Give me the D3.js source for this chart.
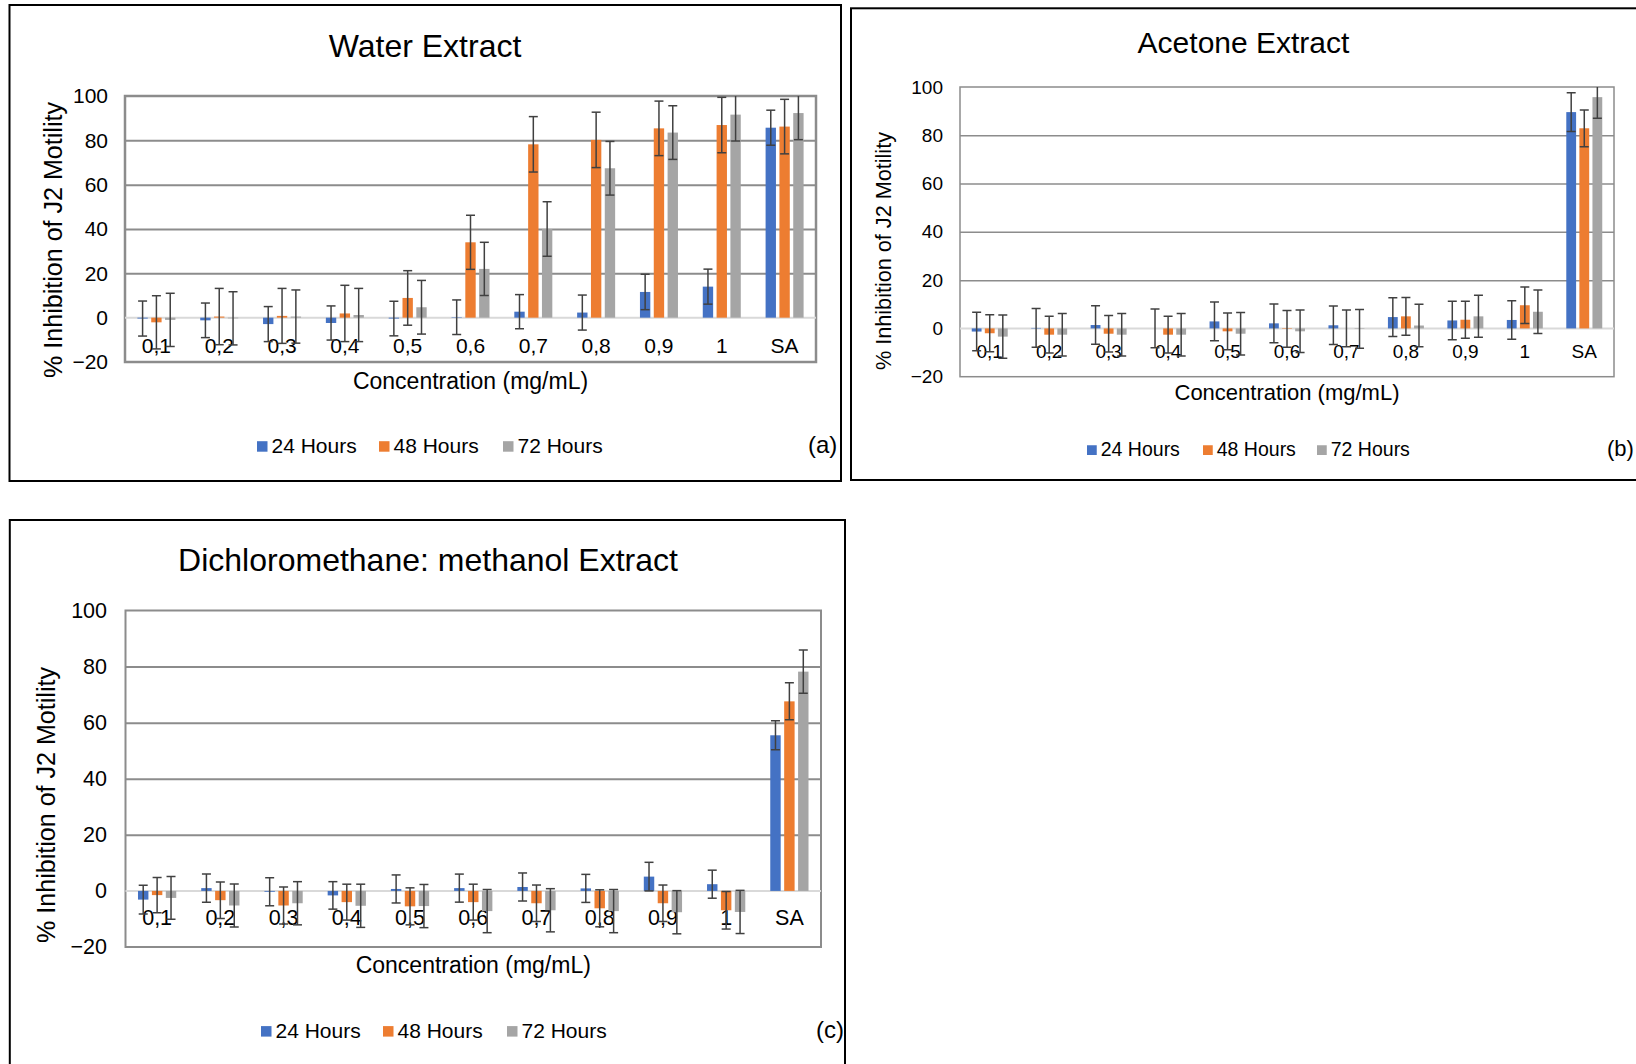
<!DOCTYPE html>
<html>
<head>
<meta charset="utf-8">
<title>Inhibition of J2 motility</title>
<script src="https://d3js.org/d3.v7.min.js"></script>
<style>
  body { margin: 0; background: #fff; }
  svg text { font-family: "Liberation Sans", Arial, sans-serif; fill: #000; }
</style>
</head>
<body>
<div id="chart"></div>
<script>
// shared categories / series
var categories = ["0,1", "0,2", "0,3", "0,4", "0,5", "0,6", "0,7", "0,8", "0,9", "1", "SA"];
var seriesNames = ["24 Hours", "48 Hours", "72 Hours"];
var seriesColors = ["#4472C4", "#ED7D31", "#A5A5A5"];
var yTicks = [-20, 0, 20, 40, 60, 80, 100];

// (a) Water extract
var water24 = [-0.4, -1.2, -2.9, -2.4, -0.4, 0.2, 2.7, 2.3, 11.6, 14, 85.7];
var water48 = [-2.1, 0.5, 0.8, 1.9, 8.9, 34, 78.2, 80.2, 85.4, 86.9, 86.2];
var water72 = [-1, -0.3, 0.5, 1.2, 4.7, 22, 40, 67.4, 83.5, 91.6, 92.3];
var waterErr24 = [7.9, 7.8, 7.9, 7.7, 7.8, 7.8, 7.7, 7.9, 8, 7.9, 7.9];
var waterErr48 = [12, 12.7, 12.4, 12.7, 12.3, 12.2, 12.5, 12.5, 12.3, 12.5, 12.3];
var waterErr72 = [12, 12, 12, 12, 12.1, 12, 12.3, 12.1, 12.1, 11.9, 12];

// (b) Acetone extract
var acetone24 = [-1.3, 0.2, 1.4, 0, 2.9, 2.1, 1.3, 4.7, 3.3, 3.5, 89.6];
var acetone48 = [-2, -2.6, -2.2, -2.6, -1.2, -0.2, 0, 5, 3.6, 9.6, 82.9];
var acetone72 = [-3.4, -2.6, -2.6, -2.6, -2.2, -1.2, -0.2, 1.2, 5, 6.9, 95.8];
var acetoneErr24 = [8, 8, 8, 8, 8, 8, 8, 8, 8, 8, 8];
var acetoneErr48 = [7.7, 7.6, 7.6, 7.6, 7.6, 7.6, 7.6, 7.8, 7.7, 7.6, 7.6];
var acetoneErr72 = [9, 8.8, 8.8, 8.8, 8.8, 8.8, 8, 8.8, 8.7, 9, 8.7];

// (c) Dichloromethane: methanol extract
var dcm24 = [-3.1, 1, -0.3, -1.6, 0.7, 1, 1.4, 0.9, 5.1, 2.4, 55.5];
var dcm48 = [-1.5, -3.3, -5.2, -4, -5.5, -4, -4.4, -6.2, -4.4, -6.9, 67.6];
var dcm72 = [-2.5, -5.2, -4.4, -5.3, -5.4, -7.2, -6.9, -7.2, -7.6, -7.5, 78.2];
var dcmErr24 = [5.1, 5, 5, 4.9, 5, 5, 5, 5, 5.1, 5, 5.2];
var dcmErr48 = [6.3, 6.5, 6.6, 6.4, 6.6, 6.4, 6.5, 6.6, 6.5, 6.7, 6.6];
var dcmErr72 = [7.6, 7.7, 7.7, 7.7, 7.7, 7.7, 7.7, 7.7, 7.7, 7.7, 7.7];

var svg = d3.select("#chart").append("svg")
  .attr("width", 1636)
  .attr("height", 1064);

svg.append("rect").attr("width", 1636).attr("height", 1064).attr("fill", "#fff");

var panels = [
  {
    id: "a", title: "Water Extract", tag: "(a)",
    values: [water24, water48, water72], errors: [waterErr24, waterErr48, waterErr72],
    frame: [9.5, 5, 841, 481],
    left: 125, right: 816, top: 96, bottom: 362,
    titleX: 425, titleY: 56.7, titleSize: 32,
    tickRight: 108, tickSize: 21, xTickY: 353,
    xTitleY: 389, xTitleSize: 23,
    yLabelX: 62, yLabelY: 240, yLabelSize: 25, yLabelLen: 276,
    legendY: 452.7, legendSize: 21, legendX: [257, 379, 503], tagX: 808, tagSize: 24,
    gridW: 2, borderW: 2.5
  },
  {
    id: "b", title: "Acetone Extract", tag: "(b)",
    values: [acetone24, acetone48, acetone72], errors: [acetoneErr24, acetoneErr48, acetoneErr72],
    frame: [851, 8.3, 1660, 480],
    left: 960, right: 1614, top: 87, bottom: 376.7,
    titleX: 1243.5, titleY: 52.7, titleSize: 30,
    tickRight: 943, tickSize: 19, xTickY: 358,
    xTitleY: 400, xTitleSize: 22,
    yLabelX: 891, yLabelY: 251, yLabelSize: 22, yLabelLen: 238,
    legendY: 456, legendSize: 19.5, legendX: [1087, 1203, 1317], tagX: 1607, tagSize: 22,
    gridW: 1.5, borderW: 1.5
  },
  {
    id: "c", title: "Dichloromethane: methanol Extract", tag: "(c)",
    values: [dcm24, dcm48, dcm72], errors: [dcmErr24, dcmErr48, dcmErr72],
    frame: [9.8, 520, 845, 1090],
    left: 125.5, right: 821, top: 610.5, bottom: 947,
    titleX: 428, titleY: 571, titleSize: 32,
    tickRight: 107, tickSize: 21.5, xTickY: 925,
    xTitleY: 973, xTitleSize: 23,
    yLabelX: 55, yLabelY: 805, yLabelSize: 25, yLabelLen: 276,
    legendY: 1037.6, legendSize: 21, legendX: [261, 383, 507], tagX: 816, tagSize: 24,
    gridW: 2, borderW: 2
  }
];

panels.forEach(drawPanel);

function drawPanel(p) {
  var g = svg.append("g").attr("class", "panel-" + p.id);

  // outer frame
  g.append("rect")
    .attr("x", p.frame[0]).attr("y", p.frame[1])
    .attr("width", p.frame[2] - p.frame[0]).attr("height", p.frame[3] - p.frame[1])
    .attr("fill", "none").attr("stroke", "#000").attr("stroke-width", 2);

  var y = d3.scaleLinear().domain([-20, 100]).range([p.bottom, p.top]);
  var x0 = d3.scaleBand().domain(categories).range([p.left, p.right]);
  var bw = x0.bandwidth();
  var x1 = d3.scaleBand().domain([0, 1, 2])
    .range([bw * 0.17, bw * 0.83])
    .paddingInner(0.25).paddingOuter(0.125);

  // gridlines
  g.append("g")
    .attr("transform", "translate(" + p.left + ",0)")
    .call(d3.axisLeft(y).tickValues([20, 40, 60, 80]).tickSize(-(p.right - p.left)).tickFormat(""))
    .call(function (s) {
      s.select(".domain").remove();
      s.selectAll("line").attr("stroke", "#8c8c8c").attr("stroke-width", p.gridW);
    });

  // plot border
  g.append("rect")
    .attr("x", p.left).attr("y", p.top)
    .attr("width", p.right - p.left).attr("height", p.bottom - p.top)
    .attr("fill", "none").attr("stroke", "#8c8c8c").attr("stroke-width", p.borderW);

  // y tick labels
  g.append("g")
    .attr("transform", "translate(" + p.tickRight + ",0)")
    .call(d3.axisLeft(y).tickValues(yTicks).tickSize(0).tickPadding(0))
    .call(function (s) {
      s.select(".domain").remove();
      s.selectAll("text").attr("font-size", p.tickSize).attr("font-family", null).attr("fill", "#000");
    });

  // x tick labels
  g.append("g")
    .attr("transform", "translate(0," + p.xTickY + ")")
    .call(d3.axisBottom(x0).tickSize(0).tickPadding(0))
    .call(function (s) {
      s.select(".domain").remove();
      s.selectAll("text").attr("dy", "0").attr("font-size", p.tickSize).attr("font-family", null).attr("fill", "#000");
    });

  // zero line
  g.append("line")
    .attr("x1", p.left).attr("x2", p.right)
    .attr("y1", y(0)).attr("y2", y(0))
    .attr("stroke", "#d9d9d9").attr("stroke-width", 2);

  var clipId = "clip-" + p.id;
  g.append("clipPath").attr("id", clipId)
    .append("rect")
    .attr("x", p.left).attr("y", p.top)
    .attr("width", p.right - p.left).attr("height", p.bottom - p.top);

  var plot = g.append("g").attr("clip-path", "url(#" + clipId + ")");

  p.values.forEach(function (vals, s) {
    var rows = categories.map(function (c, i) {
      return { cat: c, v: vals[i], e: p.errors[s][i] };
    });
    var sg = plot.append("g");
    sg.selectAll("rect").data(rows).enter().append("rect")
      .attr("x", function (d) { return x0(d.cat) + x1(s); })
      .attr("y", function (d) { return y(Math.max(0, d.v)); })
      .attr("width", x1.bandwidth())
      .attr("height", function (d) { return Math.abs(y(d.v) - y(0)); })
      .attr("fill", seriesColors[s]);
  });

  // error bars on top
  p.values.forEach(function (vals, s) {
    var rows = categories.map(function (c, i) {
      return { cat: c, v: vals[i], e: p.errors[s][i] };
    });
    var eg = plot.append("g")
      .attr("stroke", "#404040").attr("stroke-width", 1.5).attr("fill", "none");
    var cap = 4.5;
    rows.forEach(function (d) {
      var cx = x0(d.cat) + x1(s) + x1.bandwidth() / 2;
      var yt = y(d.v + d.e), yb = y(d.v - d.e);
      eg.append("line").attr("x1", cx).attr("x2", cx).attr("y1", yt).attr("y2", yb);
      eg.append("line").attr("x1", cx - cap).attr("x2", cx + cap).attr("y1", yt).attr("y2", yt);
      eg.append("line").attr("x1", cx - cap).attr("x2", cx + cap).attr("y1", yb).attr("y2", yb);
    });
  });

  // titles
  g.append("text")
    .attr("x", p.titleX).attr("y", p.titleY)
    .attr("text-anchor", "middle").attr("font-size", p.titleSize)
    .text(p.title);

  g.append("text")
    .attr("x", (p.left + p.right) / 2).attr("y", p.xTitleY)
    .attr("text-anchor", "middle").attr("font-size", p.xTitleSize)
    .text("Concentration (mg/mL)");

  g.append("text")
    .attr("transform", "translate(" + p.yLabelX + "," + p.yLabelY + ") rotate(-90)")
    .attr("text-anchor", "middle").attr("font-size", p.yLabelSize)
    .attr("textLength", p.yLabelLen).attr("lengthAdjust", "spacingAndGlyphs")
    .text("% Inhibition of J2 Motility");

  // legend
  var sq = p.legendSize * 0.5;
  seriesNames.forEach(function (name, s) {
    var lx = p.legendX[s];
    g.append("rect")
      .attr("x", lx).attr("y", p.legendY - sq - 1)
      .attr("width", sq).attr("height", sq)
      .attr("fill", seriesColors[s]);
    g.append("text")
      .attr("x", lx + sq + 4).attr("y", p.legendY)
      .attr("font-size", p.legendSize)
      .text(name);
  });

  g.append("text")
    .attr("x", p.tagX).attr("y", p.legendY)
    .attr("font-size", p.tagSize)
    .text(p.tag);
}
</script>
</body>
</html>
